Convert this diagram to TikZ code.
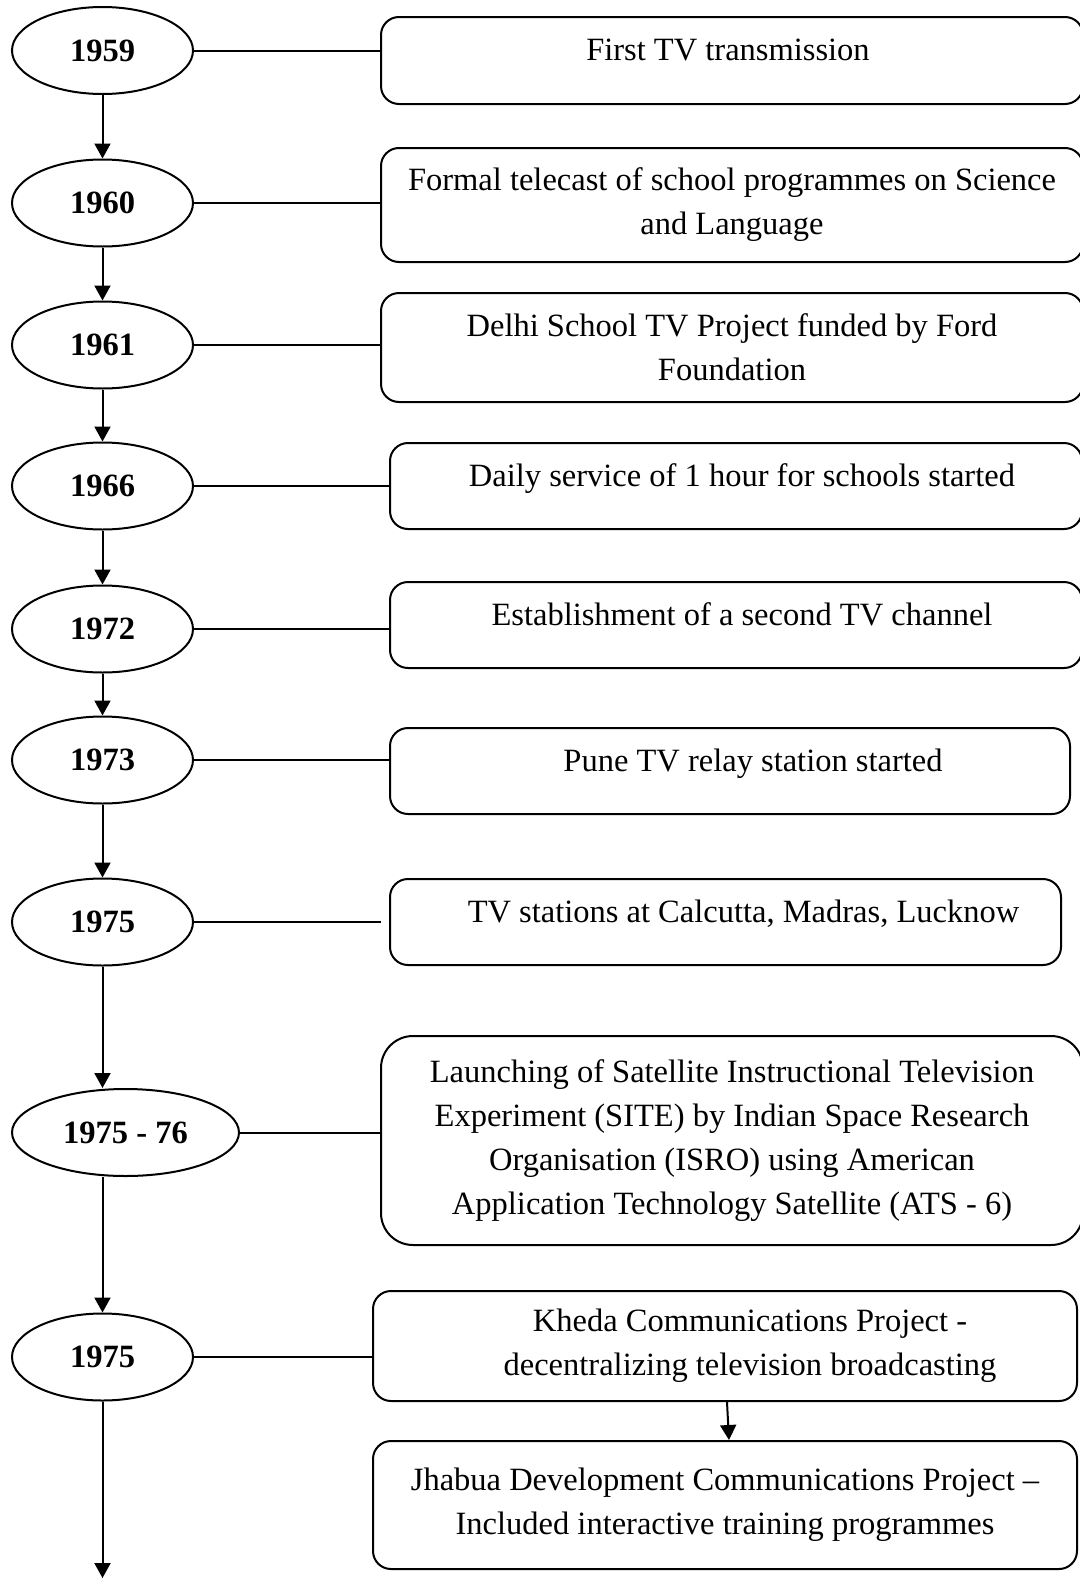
\documentclass[tikz,border=0pt]{standalone}
\usepackage{fontspec}
\setmainfont{Liberation Serif}
\usetikzlibrary{arrows.meta,shapes.geometric,calc}
\tikzset{
  year/.style={draw, ellipse, line width=1pt, font=\fontsize{16.25}{22}\selectfont\bfseries, minimum width=90.5pt, minimum height=43.5pt, inner sep=0pt},
  event/.style={draw, line width=1pt, rounded corners=9pt, align=center, inner sep=0pt, font=\fontsize{16.25}{22}\selectfont},
  oneline/.style={text height=11pt, text depth=11pt},
  link/.style={line width=1pt},
  flow/.style={-{Triangle[length=7.5pt,width=8pt]}, line width=1pt}
}

\begin{document}
\begin{tikzpicture}[x=0.5pt, y=-0.5pt]
  \useasboundingbox (0,0) rectangle (1080,1579);
  % years
  \foreach \n/\y/\t in {1/50.5/1959, 2/203/1960, 3/345/1961, 4/486/1966, 5/629/1972, 6/760/1973, 7/922/1975, 9/1357/1975}
    \node[year] (e\n) at (102.5,\y) {\t};
  \node[year, minimum width=113.5pt] (e8) at (125.5,1132.5) {1975 - 76};
  % events
  \node[event, oneline, minimum width=351pt, minimum height=43.5pt] (b1) at (732,60.5) {\hspace*{-4pt}First TV transmission};
  \node[event, minimum width=351pt, minimum height=57pt] (b2) at (732,205) {Formal telecast of school programmes on Science\\and Language};
  \node[event, minimum width=351pt, minimum height=54.5pt] (b3) at (732,347.5) {Delhi School TV Project funded by Ford\\Foundation};
  \node[event, oneline, minimum width=346pt, minimum height=43pt] (b4) at (736,486) {\hspace*{6pt}Daily service of 1 hour for schools started};
  \node[event, oneline, minimum width=346pt, minimum height=43pt] (b5) at (736,625) {\hspace*{6pt}Establishment of a second TV channel};
  \node[event, oneline, minimum width=340pt, minimum height=43pt] (b6) at (730,771) {\hspace*{23pt}Pune TV relay station started};
  \node[event, oneline, minimum width=335.5pt, minimum height=43pt] (b7) at (725.5,922) {\hspace*{18pt}TV stations at Calcutta, Madras, Lucknow};
  \node[event, rounded corners=16pt, minimum width=351pt, minimum height=104.5pt] (b8) at (732,1140.5) {Launching of Satellite Instructional Television\\Experiment (SITE) by Indian Space Research\\Organisation (ISRO) using American\\Application Technology Satellite (ATS - 6)};
  \node[event, minimum width=352pt, minimum height=55pt] (b9) at (725,1346) {\hspace*{25pt}Kheda Communications Project -\\\hspace*{25pt}decentralizing television broadcasting};
  \node[event, minimum width=352pt, minimum height=64pt] (b10) at (725,1505) {Jhabua Development Communications Project --\\Included interactive training programmes};
  % year to event
  \foreach \n in {1,2,3,4,5,6,8,9}
    \draw[link] (e\n.east) -- (e\n.east -| b\n.west);
  \draw[link, shorten >=4pt] (e7.east) -- (e7.east -| b7.west);
  % timeline
  \foreach \a/\b in {1/2, 2/3, 3/4, 4/5, 5/6, 6/7}
    \draw[flow] (e\a) -- (e\b);
  \draw[flow] (e7.south) -- (e7.south |- e8.north);
  \draw[flow] (e9.north |- e8.south) -- (e9.north);
  \coordinate (tail) at (102.5,1578);
  \draw[flow] (e9.south) -- (tail);
  \draw[flow] ([xshift=1pt]b9.south) -- ([xshift=2pt]b10.north);
\end{tikzpicture}
\end{document}
